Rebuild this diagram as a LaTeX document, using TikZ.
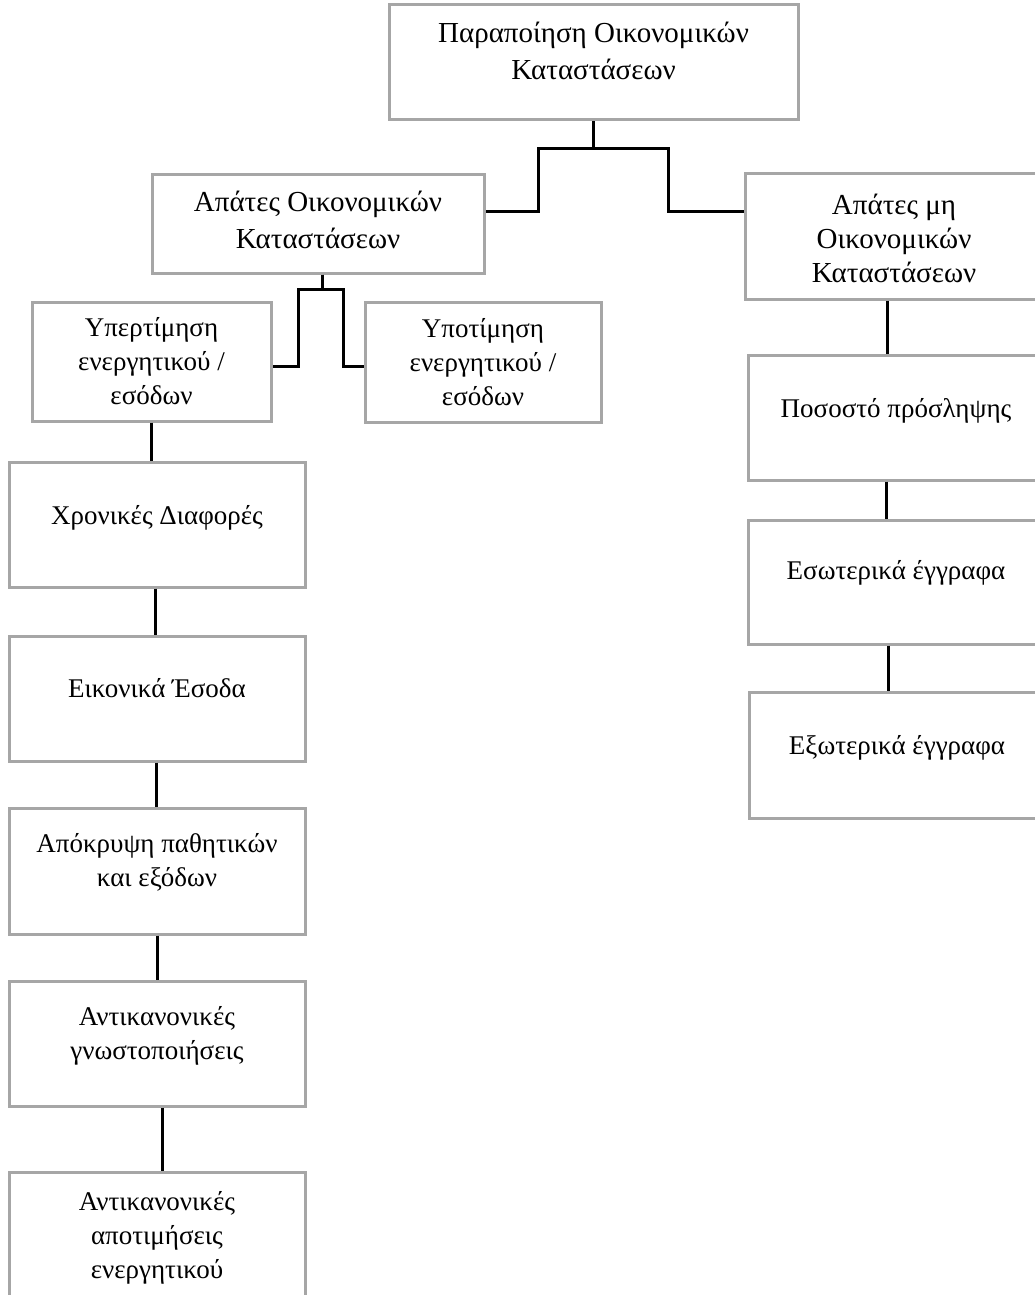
\documentclass[tikz,border=0pt]{standalone}
\usepackage{fontspec}
\setmainfont{Liberation Serif}
\usepackage{xcolor}
\usepackage{tikz}

\definecolor{boxgray}{RGB}{166,166,166}

% text of a box, with extra room below so that it sits a little high
\newcommand{\boxtext}[2][16pt]{\raisebox{0pt}[\height][\dimexpr\depth+#1\relax]{\begin{tabular}{@{}c@{}}#2\end{tabular}}}

\tikzset{
  box/.style={draw=boxgray, line width=3pt, rectangle, inner sep=0pt, minimum width=296pt, minimum height=125pt, font=\fontsize{27}{34}\selectfont},
  bigbox/.style={box, font=\fontsize{29}{37}\selectfont},
  link/.style={line width=3pt}
}

\begin{document}
\begin{tikzpicture}[x=1pt, y=-1pt]

\useasboundingbox (0,0) rectangle (1034,1295);

% top

\node[bigbox, minimum width=409pt, minimum height=115pt] (top) at (593.5, 62.5) {\boxtext[18pt]{Παραποίηση Οικονομικών\\Καταστάσεων}};

% second level
\node[bigbox, minimum width=332pt, minimum height=99pt] (fin) at (318, 223.5) {\boxtext[2pt]{Απάτες Οικονομικών\\Καταστάσεων}};
\node[bigbox, minimum width=298pt, minimum height=126pt, font=\fontsize{29}{34}\selectfont] (nonfin) at (894, 236) {\boxtext[-12pt]{Απάτες μη\\Οικονομικών\\Καταστάσεων}};

% third level
\node[box, minimum width=239pt, minimum height=119pt] (over) at (151.5, 361.5) {\boxtext[-4pt]{Υπερτίμηση\\ενεργητικού /\\εσόδων}};
\node[box, minimum width=236pt, minimum height=120pt] (under) at (483, 362) {\boxtext[-5pt]{Υποτίμηση\\ενεργητικού /\\εσόδων}};

% left column
\node[box] (chron) at (157, 524.5) {\boxtext[13pt]{Χρονικές Διαφορές}};
\node[box] (fict) at (157, 698.5) {\boxtext[15pt]{Εικονικά Έσοδα}};
\node[box, minimum height=126pt] (conceal) at (157, 871) {\boxtext[16pt]{Απόκρυψη παθητικών\\και εξόδων}};
\node[box] (discl) at (157, 1043.5) {\boxtext[15pt]{Αντικανονικές\\γνωστοποιήσεις}};
\node[box] (valuat) at (157, 1234.5) {\boxtext[-7pt]{Αντικανονικές\\αποτιμήσεις\\ενεργητικού}};

% right column
\node[box] (rate) at (896, 417.5) {\boxtext[13pt]{Ποσοστό πρόσληψης}};
\node[box, minimum height=124pt] (intdoc) at (896, 582) {\boxtext[18pt]{Εσωτερικά έγγραφα}};
\node[box, minimum height=126pt] (extdoc) at (897, 755) {\boxtext[14pt]{Εξωτερικά έγγραφα}};

% top -> second level
\draw[link] (top.south) -- ++(0,27) -| (538,211) -- ([yshift=12.5pt]fin.east);
\draw[link] (top.south) -- ++(0,27) -| (668,211) -- ([yshift=25pt]nonfin.west);

% second level -> third level
\draw[link] ([xshift=4pt]fin.south) -- ++(0,15) -| (298,366) -- ([yshift=-4.5pt]over.east);
\draw[link] ([xshift=4pt]fin.south) -- ++(0,15) -| (343,366) -- ([yshift=-4pt]under.west);

% left column
\draw[link] (over.south) -- (over.south |- chron.north);
\draw[link] ([xshift=-2pt]chron.south) -- ([xshift=-2pt]fict.north);
\draw[link] ([xshift=-1pt]fict.south) -- ([xshift=-1pt]conceal.north);
\draw[link] (conceal.south) -- (discl.north);
\draw[link] ([xshift=5pt]discl.south) -- ([xshift=5pt]valuat.north);

% right column
\draw[link] ([xshift=-7pt]nonfin.south) -- ([xshift=-7pt]nonfin.south |- rate.north);
\draw[link] ([xshift=-10pt]rate.south) -- ([xshift=-10pt]intdoc.north);
\draw[link] ([xshift=-8pt]intdoc.south) -- ([xshift=-9pt]extdoc.north);

\end{tikzpicture}
\end{document}
